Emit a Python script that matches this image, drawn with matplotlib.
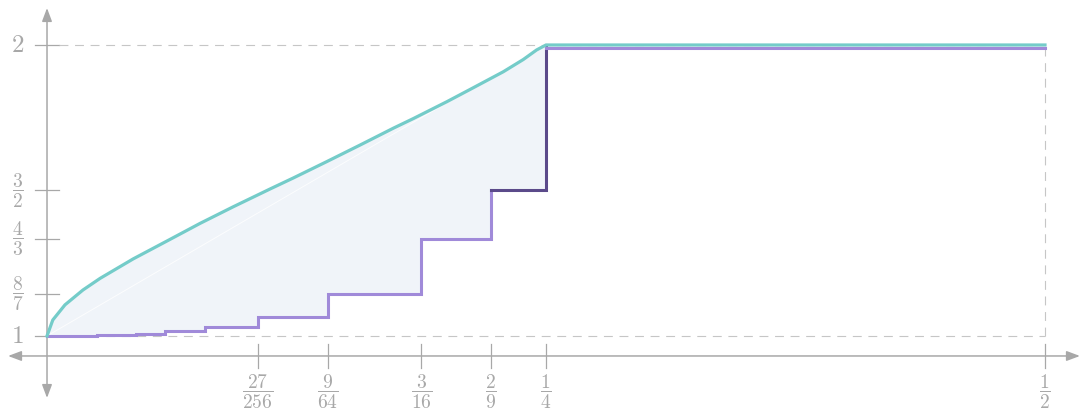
import numpy as np
import matplotlib
matplotlib.use("Agg")
import matplotlib.pyplot as plt
import matplotlib.transforms as mtransforms

plt.rcParams['mathtext.fontset'] = 'cm'

# upper curve (teal)
curve_x = [0, 0.0029, 0.009, 0.018, 0.0266, 0.0432, 0.0600, 0.0767, 0.0933,
           0.1117, 0.1234, 0.1401, 0.1568, 0.1735, 0.1835, 0.2003, 0.2119,
           0.2286, 0.2386, 0.2453, 0.25, 0.5]
curve_y = [1, 1.055, 1.107, 1.158, 1.198, 1.265, 1.326, 1.387, 1.444,
           1.505, 1.543, 1.599, 1.656, 1.714, 1.747, 1.805, 1.847,
           1.908, 1.950, 1.983, 2, 2]

# step function (purple): value step_y[i] holds from step_x[i] to step_x[i+1]
step_x = [0, 0.0250, 0.0334, 0.0445, 0.0593, 0.0791, 27/256, 9/64, 3/16, 2/9, 1/4, 1/2]
step_y = [1.0, 1.002, 1.004, 1.008, 1.016, 1.032, 16/15, 8/7, 4/3, 3/2, 2, 2]

x_ticks = [27/256, 9/64, 3/16, 2/9, 1/4, 1/2]
x_labels = [r'$\dfrac{27}{256}$', r'$\dfrac{9}{64}$', r'$\dfrac{3}{16}$',
            r'$\dfrac{2}{9}$', r'$\dfrac{1}{4}$', r'$\dfrac{1}{2}$']
y_ticks = [1, 8/7, 4/3, 3/2, 2]
y_labels = [r'$1$', r'$\dfrac{8}{7}$', r'$\dfrac{4}{3}$', r'$\dfrac{3}{2}$', r'$2$']

gray = '#a8a8a8'
teal = '#74ccc9'
purple = '#a08ad9'
dark_purple = '#5b4a8a'
fill_col = '#f0f4f9'

fig = plt.figure(figsize=(10.81, 4.17), dpi=100)
ax = fig.add_axes([0, 0, 1, 1])
ax.set_xlim(-0.02355, 0.51804)
ax.set_ylim(0.7216, 2.1546)
ax.axis('off')

axis_y = 0.9313   # where the horizontal axis crosses
tx = 12 / 1996    # tick half-length in x units
ty = 12 / 291     # tick half-length in y units

# axes with arrows at both ends
arrow = dict(arrowstyle='<|-|>,head_length=0.8,head_width=0.3', color=gray,
             lw=1.1, shrinkA=0, shrinkB=0)
ax.annotate('', xy=(0.5175, axis_y), xytext=(-0.0195, axis_y), arrowprops=arrow)
ax.annotate('', xy=(0, 2.127), xytext=(0, 0.787), arrowprops=arrow)

# ticks and labels
for t, lab in zip(x_ticks, x_labels):
    ax.plot([t, t], [axis_y - ty, axis_y + ty], color=gray, lw=0.9)
    ax.text(t, axis_y - 0.122, lab, ha='center', va='center', fontsize=14, color=gray)
for t, lab in zip(y_ticks, y_labels):
    ax.plot([-tx, tx], [t, t], color=gray, lw=0.9)
    size = 18 if t in (1, 2) else 14
    ax.text(-0.0148, t, lab, ha='center', va='center', fontsize=size, color=gray)

# dashed guides
dash = dict(color='#c6c6c6', lw=0.8, dashes=(8, 6))
ax.plot([tx, 0.5], [2, 2], **dash)
ax.plot([tx, 0.5], [1, 1], **dash)
ax.plot([0.5, 0.5], [1, 2], **dash)

# shaded region between the curve and the steps
upper = [(x, y) for x, y in zip(curve_x, curve_y) if x <= 0.25]
lower = []
for i in range(len(step_x) - 2):
    lower.append((step_x[i], step_y[i]))
    lower.append((step_x[i + 1], step_y[i]))
lower.append((step_x[-2], step_y[-2]))
poly = upper + lower[::-1]
ax.fill([p[0] for p in poly], [p[1] for p in poly], color=fill_col, lw=0, zorder=1)
ax.plot([curve_x[0], 0.25], [curve_y[0], 2], color='white', lw=0.7, alpha=0.8, zorder=1.5)

# purple steps
ax.plot(step_x[:10], step_y[:10], drawstyle='steps-post', color=purple, lw=2.2,
        zorder=3, solid_joinstyle='miter')
ax.plot(step_x[9:11], step_y[9:11], drawstyle='steps-post', color=dark_purple, lw=2.2,
        zorder=3, solid_joinstyle='miter')
shift = mtransforms.offset_copy(ax.transData, fig=fig, x=0, y=-3.5, units='dots')
ax.plot(step_x[10:], step_y[10:], color=purple, lw=2.2, zorder=3, transform=shift)

# teal curve
ax.plot(curve_x, curve_y, color=teal, lw=2.3, zorder=4, solid_joinstyle='round')

fig.savefig('out.png', dpi=100)
